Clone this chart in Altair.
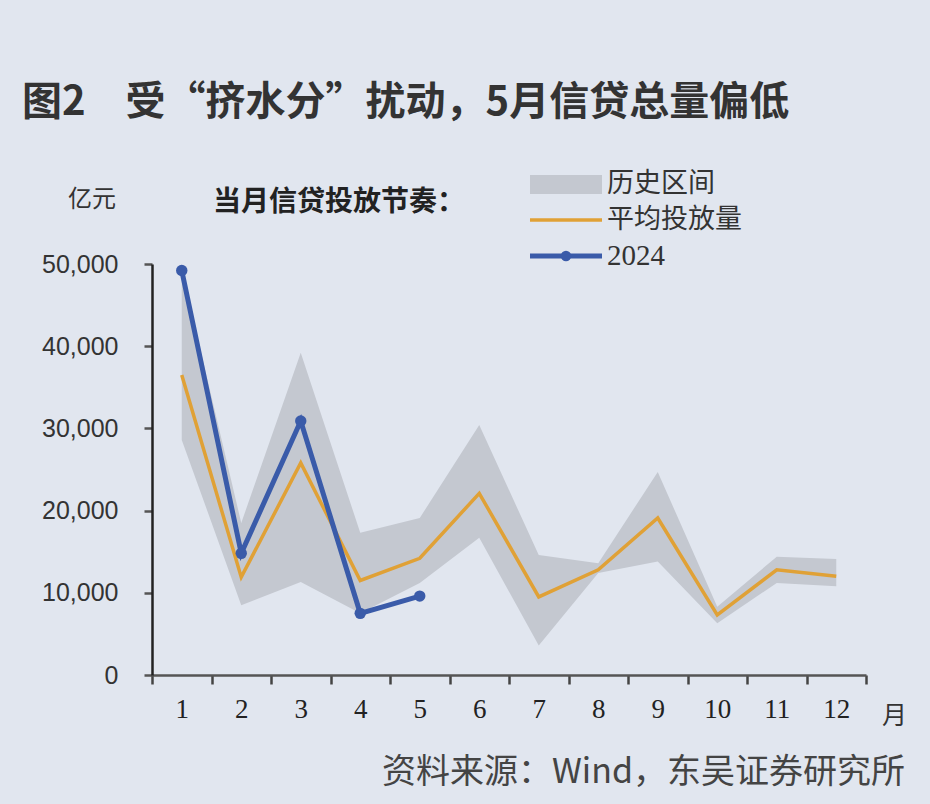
import altair as alt
import pandas as pd

# ---- data ----
month_labels = ["1", "2", "3", "4", "5", "6", "7", "8", "9", "10", "11", "12"]
hist_low = [28600, 8500, 11300, 7500, 11200, 16700, 3600, 12400, 13800, 6300, 11200, 10800]
hist_high = [49200, 18500, 39200, 17300, 19100, 30400, 14600, 13600, 24700, 8300, 14400, 14100]
avg_amount = [36500, 11900, 25800, 11500, 14200, 22100, 9500, 12800, 19100, 7300, 12800, 12000]
months_2024 = ["1", "2", "3", "4", "5"]
values_2024 = [49200, 14800, 30900, 7500, 9600]
y_ticks = [0, 10000, 20000, 30000, 40000, 50000]

hist = pd.DataFrame({"month": month_labels, "low": hist_low, "high": hist_high, "avg": avg_amount})
cur = pd.DataFrame({"month": months_2024, "value": values_2024})

BG = "#E1E6EF"
BAND = "#C4C8D0"
ORANGE = "#E0A136"
BLUE = "#3A5BA9"
TXT = "#333333"
CJK = "Noto Sans CJK SC"

xscale = alt.Scale(type="band", domain=month_labels, paddingInner=0, paddingOuter=0)
xaxis = alt.Axis(title=None, labelAngle=0, tickBand="extent", labelFont="Liberation Serif",
                 labelFontSize=27, labelColor="#222222", labelPadding=12, tickSize=9,
                 tickWidth=2.5, tickColor="#444444", domainColor="#555555", domainWidth=2.5,
                 grid=False)
yscale = alt.Scale(domain=[0, 50000], nice=False)
yaxis = alt.Axis(title=None, values=y_ticks, format=",.0f", labelFont="Liberation Sans",
                 labelFontSize=25, labelColor=TXT, labelPadding=26, tickSize=8, tickWidth=2.5,
                 tickColor="#555555", domainColor="#222222", domainWidth=2.5, grid=False)


def X():
    return alt.X("month:O", scale=xscale, axis=xaxis, bandPosition=0.5, sort=month_labels)


band = alt.Chart(hist).mark_area(color=BAND, opacity=1).encode(
    x=X(),
    y=alt.Y("high:Q", scale=yscale, axis=yaxis),
    y2="low:Q",
)
avg_line = alt.Chart(hist).mark_line(color=ORANGE, strokeWidth=3.5).encode(
    x=X(), y=alt.Y("avg:Q", scale=yscale, axis=yaxis)
)
line24 = alt.Chart(cur).mark_line(color=BLUE, strokeWidth=5).encode(
    x=X(), y=alt.Y("value:Q", scale=yscale, axis=yaxis)
)
pts24 = alt.Chart(cur).mark_circle(color=BLUE, size=130, opacity=1).encode(
    x=X(), y=alt.Y("value:Q", scale=yscale, axis=yaxis)
)

one = alt.Data(values=[{}])


def label(text, x, y, size, font=CJK, weight="normal", align="left", color=TXT):
    return alt.Chart(one).mark_text(
        text=text, font=font, fontSize=size, fontWeight=weight, align=align,
        baseline="middle", color=color
    ).encode(x=alt.value(x), y=alt.value(y))


title = label("图2　受“挤水分”扰动，5月信贷总量偏低", -130, -161, 40, weight="bold", color="#333333")
unit = label("亿元", -84, -64, 24)
subtitle = label("当月信贷投放节奏：", 61, -61, 28, weight="bold", color="#222222")
month_unit = label("月", 730, 452, 25)
source = label("资料来源：Wind，东吴证券研究所", 753, 509, 34, align="right", color="#444444")

leg_rect = alt.Chart(one).mark_rect(color=BAND).encode(
    x=alt.value(378), x2=alt.value(450), y=alt.value(-89), y2=alt.value(-70)
)
leg_orange = alt.Chart(one).mark_rule(color=ORANGE, strokeWidth=3.5).encode(
    x=alt.value(378), x2=alt.value(450), y=alt.value(-44)
)
leg_blue = alt.Chart(one).mark_rule(color=BLUE, strokeWidth=5).encode(
    x=alt.value(378), x2=alt.value(450), y=alt.value(-8)
)
leg_dot = alt.Chart(one).mark_circle(color=BLUE, size=110, opacity=1).encode(
    x=alt.value(414), y=alt.value(-8)
)
leg_t1 = label("历史区间", 455, -80, 27)
leg_t2 = label("平均投放量", 455, -44, 27)
leg_t3 = label("2024", 455, -8, 29, font="Liberation Serif")

chart = alt.layer(
    band, avg_line, line24, pts24,
    title, unit, subtitle, month_unit, source,
    leg_rect, leg_orange, leg_blue, leg_dot, leg_t1, leg_t2, leg_t3,
).properties(
    width=714, height=411,
    padding={"left": 152, "top": 264, "right": 64, "bottom": 129},
    autosize=alt.AutoSizeParams(type="none"),
    background=BG,
).configure_view(strokeWidth=0)

chart.save("out.html", embed_options={"renderer": "svg", "actions": False})
